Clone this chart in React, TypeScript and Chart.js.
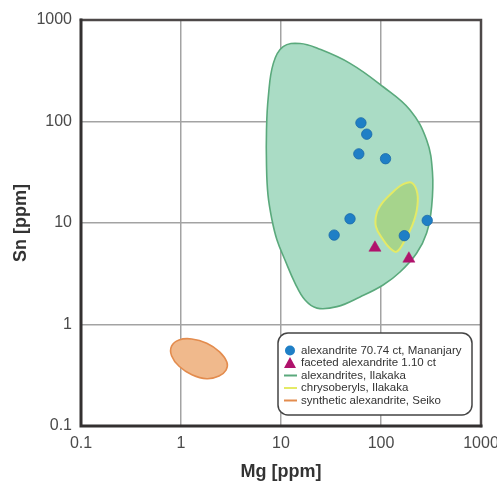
import React, { useEffect, useRef } from "react";
import { Chart, registerables } from "chart.js";

Chart.register(...registerables);

// ---- data ----
const axisTicks = [0.1, 1, 10, 100, 1000];
const tickLabels = ["0.1", "1", "10", "100", "1000"];

const mananjaryMg = [63, 72, 60, 111, 49, 34, 171, 290];
const mananjarySn = [97, 75, 48, 43, 11, 7.6, 7.5, 10.6];

const facetedMg = [87, 190];
const facetedSn = [5.7, 4.45];

// outline of the field "alexandrites, Ilakaka" (closed)
const ilakakaAlexMg = [7.16, 7.46, 8.38, 10.5, 15.5, 23.4, 49, 105, 195, 286, 327, 321, 286, 227, 155, 105, 61.7, 36.3, 22.9, 17.4, 13.8, 10.96, 9.12, 8.13, 7.41, 7.16];
const ilakakaAlexSn = [82.5, 174, 374, 546, 587, 524, 374, 220, 130, 65.7, 31.8, 14.5, 7.97, 5.03, 3.29, 2.45, 1.87, 1.5, 1.45, 1.74, 2.56, 4.32, 6.8, 10.7, 18.9, 37.3];

// outline of the field "chrysoberyls, Ilakaka" (closed)
const chrysoMg = [89.1, 90.6, 105.4, 138, 167, 203, 231, 228, 203, 174, 143.5, 123, 105.4];
const chrysoSn = [9.2, 12.5, 16.2, 21.1, 24.2, 24.9, 19.6, 13.4, 9.2, 6.8, 5.21, 5.63, 6.8];

// outline of the field "synthetic alexandrite, Seiko" (closed)
const seikoMg = [0.805, 0.805, 0.955, 1.28, 1.81, 2.43, 2.88, 2.82, 2.4, 1.81, 1.285, 0.957];
const seikoSn = [0.493, 0.613, 0.705, 0.721, 0.654, 0.538, 0.424, 0.356, 0.311, 0.292, 0.32, 0.388];

const legendLabels = [
  "alexandrite 70.74 ct, Mananjary",
  "faceted alexandrite 1.10 ct",
  "alexandrites, Ilakaka",
  "chrysoberyls, Ilakaka",
  "synthetic alexandrite, Seiko",
];

const pts = (xs: number[], ys: number[]) => xs.map((x, i) => ({ x, y: ys[i] }));

const BLUE = "#1f7fc6";
const MAGENTA = "#b0126c";
const GREEN_FILL = "#aadcc5";
const GREEN_LINE = "#5aa97c";
const YEL_FILL = "#a6d48c";
const YEL_LINE = "#e4ea66";
const OR_FILL = "#f0b98c";
const OR_LINE = "#e38c4e";

// make outline datasets closed, smooth loops (like radar lines)
const loopPlugin = {
  id: "closedShapes",
  afterDatasetsUpdate(chart: any) {
    chart.data.datasets.forEach((ds: any, i: number) => {
      if (!ds.closedShape) return;
      const line = chart.getDatasetMeta(i).dataset;
      if (!line) return;
      line._loop = true;
      line._fullLoop = true;
      line._pointsUpdated = false;
      line._segments = undefined;
      line._path = undefined;
    });
  },
};

const framePlugin = {
  id: "frame",
  afterDraw(chart: any) {
    const { ctx, chartArea: a } = chart;
    ctx.save();
    ctx.lineCap = "square";
    ctx.strokeStyle = "#4d4848";
    ctx.lineWidth = 2.5;
    ctx.beginPath();
    ctx.moveTo(a.left, a.top);
    ctx.lineTo(a.right, a.top);
    ctx.lineTo(a.right, a.bottom);
    ctx.stroke();
    ctx.strokeStyle = "#333030";
    ctx.lineWidth = 3;
    ctx.beginPath();
    ctx.moveTo(a.left, a.top);
    ctx.lineTo(a.left, a.bottom);
    ctx.lineTo(a.right, a.bottom);
    ctx.stroke();
    ctx.restore();
  },
};

const legendPlugin = {
  id: "customLegend",
  afterDraw(chart: any) {
    const { ctx } = chart;
    const x0 = 278, y0 = 333, w = 194, h = 82, r = 10;
    ctx.save();
    ctx.beginPath();
    ctx.moveTo(x0 + r, y0);
    ctx.arcTo(x0 + w, y0, x0 + w, y0 + h, r);
    ctx.arcTo(x0 + w, y0 + h, x0, y0 + h, r);
    ctx.arcTo(x0, y0 + h, x0, y0, r);
    ctx.arcTo(x0, y0, x0 + w, y0, r);
    ctx.closePath();
    ctx.fillStyle = "#ffffff";
    ctx.fill();
    ctx.strokeStyle = "#444";
    ctx.lineWidth = 1.5;
    ctx.stroke();

    const rowY = [350.5, 363, 375.5, 388, 400.5];
    const mx = 290;
    ctx.beginPath();
    ctx.arc(mx, rowY[0], 5, 0, Math.PI * 2);
    ctx.fillStyle = BLUE;
    ctx.fill();
    ctx.beginPath();
    ctx.moveTo(mx, rowY[1] - 6);
    ctx.lineTo(mx + 6, rowY[1] + 5);
    ctx.lineTo(mx - 6, rowY[1] + 5);
    ctx.closePath();
    ctx.fillStyle = MAGENTA;
    ctx.fill();
    const lineCols = [GREEN_LINE, YEL_LINE, OR_LINE];
    lineCols.forEach((c, i) => {
      ctx.beginPath();
      ctx.moveTo(mx - 6, rowY[i + 2]);
      ctx.lineTo(mx + 7, rowY[i + 2]);
      ctx.strokeStyle = c;
      ctx.lineWidth = 2;
      ctx.stroke();
    });
    ctx.fillStyle = "#333";
    ctx.font = "11.5px 'Liberation Sans', Arial, sans-serif";
    ctx.textBaseline = "middle";
    ctx.textAlign = "left";
    legendLabels.forEach((t, i) => ctx.fillText(t, 301, rowY[i]));
    ctx.restore();
  },
};

export default function App() {
  const ref = useRef<HTMLCanvasElement | null>(null);
  useEffect(() => {
    if (!ref.current) return;
    const tickFont = { family: "'Liberation Sans', Arial, sans-serif", size: 16 };
    const titleFont = { family: "'Liberation Sans', Arial, sans-serif", size: 18, weight: "bold" as const };
    const setTicks = (s: any) => {
      s.ticks = axisTicks.map((v) => ({ value: v }));
    };
    const label = (v: any) => {
      const i = axisTicks.indexOf(Number(v));
      return i >= 0 ? tickLabels[i] : "";
    };
    const shape = (label: string, xs: number[], ys: number[], fillC: string, lineC: string, bw: number, order: number) =>
      ({
        label,
        data: pts(xs, ys),
        showLine: true,
        closedShape: true,
        fill: "shape",
        backgroundColor: fillC,
        borderColor: lineC,
        borderWidth: bw,
        pointRadius: 0,
        tension: 0.4,
        order,
      } as any);
    const chart = new Chart(ref.current, {
      type: "scatter",
      data: {
        datasets: [
          {
            label: legendLabels[0],
            data: pts(mananjaryMg, mananjarySn),
            backgroundColor: BLUE,
            borderColor: "#1a6aa8",
            borderWidth: 0.8,
            pointRadius: 5.2,
            pointStyle: "circle",
            order: 0,
          },
          {
            label: legendLabels[1],
            data: pts(facetedMg, facetedSn),
            backgroundColor: MAGENTA,
            borderColor: MAGENTA,
            borderWidth: 0.5,
            pointRadius: 7,
            pointStyle: "triangle",
            order: 1,
          },
          shape(legendLabels[3], chrysoMg, chrysoSn, YEL_FILL, YEL_LINE, 2, 2),
          shape(legendLabels[4], seikoMg, seikoSn, OR_FILL, OR_LINE, 1.6, 3),
          shape(legendLabels[2], ilakakaAlexMg, ilakakaAlexSn, GREEN_FILL, GREEN_LINE, 1.6, 4),
        ],
      },
      options: {
        animation: false,
        responsive: true,
        maintainAspectRatio: false,
        layout: { padding: { top: 20, right: 16, left: 0, bottom: 0 } },
        plugins: { legend: { display: false }, tooltip: { enabled: false } },
        scales: {
          x: {
            type: "logarithmic",
            min: 0.1,
            max: 1000,
            afterBuildTicks: setTicks,
            afterFit: (s: any) => {
              s.height = 59;
              s.paddingLeft = 0;
              s.paddingRight = 0;
            },
            grid: { color: "#a3a3a3", lineWidth: 1.5, drawTicks: false },
            border: { display: false },
            ticks: {
              autoSkip: false,
              maxRotation: 0,
              padding: 8,
              color: "#4a4a4a",
              font: tickFont,
              callback: label,
            },
            title: {
              display: true,
              text: "Mg [ppm]",
              color: "#333",
              font: titleFont,
              padding: { top: 0, bottom: 2 },
            },
          },
          y: {
            type: "logarithmic",
            min: 0.1,
            max: 1000,
            afterBuildTicks: setTicks,
            afterFit: (s: any) => {
              s.width = 81;
              s.paddingTop = 0;
              s.paddingBottom = 0;
            },
            grid: { color: "#a3a3a3", lineWidth: 1.5, drawTicks: false },
            border: { display: false },
            ticks: {
              autoSkip: false,
              padding: 9,
              color: "#4a4a4a",
              font: tickFont,
              callback: label,
            },
            title: {
              display: true,
              text: "Sn [ppm]",
              color: "#333",
              font: titleFont,
              padding: { top: 10, bottom: 0 },
            },
          },
        },
      },
      plugins: [loopPlugin, framePlugin, legendPlugin],
    });
    return () => chart.destroy();
  }, []);
  return (
    <div style={{ position: "absolute", left: 0, top: 0, width: 497, height: 485, background: "#fff" }}>
      <canvas ref={ref} />
    </div>
  );
}
